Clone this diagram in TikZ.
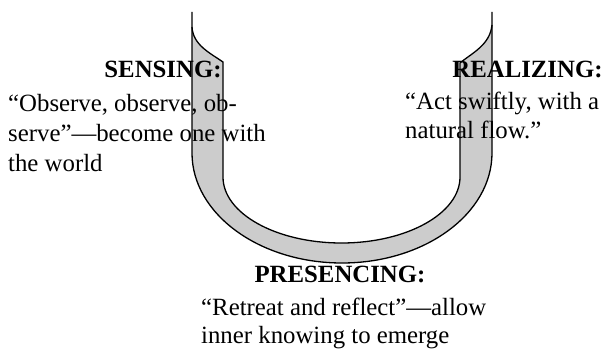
\documentclass[tikz,border=0pt]{standalone}
\usepackage{fontspec}
\setmainfont{Liberation Serif}
\definecolor{ufill}{RGB}{204,204,204}
\begin{document}
\begin{tikzpicture}[x=1pt,y=-1pt,
  body/.style={inner sep=0pt,anchor=base west,font=\fontsize{24.8}{29}\selectfont},
  head/.style={inner sep=0pt,anchor=base,font=\fontsize{24.8}{29}\selectfont\bfseries},
  uline/.style={line width=1.3pt,line join=round}]
\useasboundingbox (0,0) rectangle (603,350);
% key points of the U
\coordinate (oltop) at (192,12);
\coordinate (ortop) at (492,12);
\coordinate (ol) at (192,153);
\coordinate (or) at (492,153);
\coordinate (ob) at (342,263);
\coordinate (lcap) at (192,27);
\coordinate (rcap) at (492,25);
\coordinate (iltop) at (223,62);
\coordinate (irtop) at (460,63);
\coordinate (il) at (223,177);
\coordinate (ir) at (460,177);
\coordinate (ib) at (341.5,243);
% fill
\fill[ufill] (lcap) .. controls (193,45) and (210,53) .. (iltop) -- (il)
  .. controls (223,213.4) and (276.1,243) .. (ib)
  .. controls (406.9,243) and (460,213.4) .. (ir) -- (irtop)
  .. controls (472,53) and (490,45) .. (rcap) -- (or)
  .. controls (492,213.7) and (424.8,263) .. (ob)
  .. controls (259.2,263) and (192,213.7) .. (ol) -- cycle;
% outer edge
\draw[uline] (oltop) -- (ol)
  .. controls (192,213.7) and (259.2,263) .. (ob)
  .. controls (424.8,263) and (492,213.7) .. (or) -- (ortop);
% inner edge with caps
\draw[uline] (lcap) .. controls (193,45) and (210,53) .. (iltop) -- (il)
  .. controls (223,213.4) and (276.1,243) .. (ib)
  .. controls (406.9,243) and (460,213.4) .. (ir) -- (irtop)
  .. controls (472,53) and (490,45) .. (rcap);
% texts
\node[head] (sensing) at (163,78) {SENSING:};
\node[body] (s1) at (8,112) {“Observe, observe, ob-};
\node[body] (s2) at (8,142) {serve”—become one with};
\node[body] (s3) at (8,172) {the world};
\node[head] (realizing) at (527.5,78) {REALIZING:};
\node[body] (r1) at (405,110) {“Act swiftly, with a};
\node[body] (r2) at (405,139) {natural flow.”};
\node[head] (presencing) at (340,282) {PRESENCING:};
\node[body] (p1) at (201,315) {“Retreat and reflect”—allow};
\node[body] (p2) at (201,343) {inner knowing to emerge};
\end{tikzpicture}
\end{document}
